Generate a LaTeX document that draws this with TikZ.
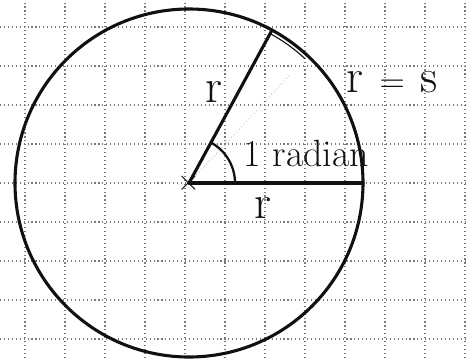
\documentclass[tikz,border=0pt]{standalone}
\usepackage{tikz}
\usetikzlibrary{positioning,calc}
\definecolor{cInk}{HTML}{111111}
\definecolor{cGrid}{HTML}{7A7A7A}
\definecolor{cFaint}{HTML}{B5B5B5}
\tikzset{
  gridln/.style={cGrid,line width=0.8pt,dotted},
  inkln/.style={cInk,line width=2.2pt,line cap=round},
  thinln/.style={cInk,line width=0.8pt},
  faintln/.style={cFaint,line width=0.6pt,dotted},
  hand/.style={text=cInk,inner sep=1pt,font=\fontsize{#1}{#1}\selectfont},
  hand/.default=28,
}
\begin{document}
\begin{tikzpicture}[x=0.025cm,y=0.025cm]
        \useasboundingbox (0,0) rectangle (466,358);
        \fill[white] (0,0) rectangle (466,358);
        % graph paper
        \foreach \gx in {25,65,...,465}{\draw[gridln] (\gx,0) -- (\gx,358);}
        \foreach \gy in {19,58,...,358}{\draw[gridln] (0,\gy) -- (466,\gy);}
        % circle and the two radii
        \coordinate (O) at (189,175);
        \coordinate (A) at ($(O)+(61.5:174)$);
        \coordinate (B) at ($(O)+(0:174)$);
        \coordinate (F) at ($(O)+(47:150)$);
        \draw[inkln] (O) circle (174);
        \draw[faintln] (O) -- (F);
        \draw[thinln] ($(O)+(61.5:170)$) arc (61.5:47:170);
        \draw[inkln] (O) -- (A);
        \draw[inkln] (O) -- (B);
        \draw[inkln,line width=1.6pt] ($(O)+(0:46)$) arc (0:61:46);
        % centre mark
        \node[hand=22] (ctr) at (O) {$\times$};
        % labels
        \node[hand=34] (rA) at (214,266) {r};
        \node[hand=34] (rB) at (263,150) {r};
        \node[hand=27,anchor=west] (rad) at (242,205) {1 radian};
        \node[hand=34,anchor=west] (rs) at (345,276) {r\,\,$=$\,\,s};
      \end{tikzpicture}
\end{document}
